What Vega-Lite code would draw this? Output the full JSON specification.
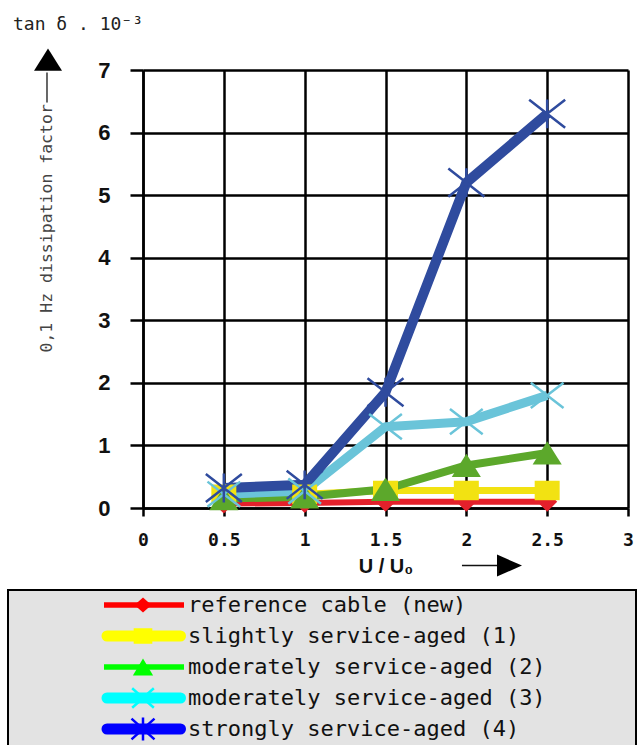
{
  "$schema": "https://vega.github.io/schema/vega-lite/v6.json",
  "padding": {"left": 7, "top": 16, "right": 0, "bottom": 0},
  "background": "white",
  "spacing": 12,
  "config": {
    "view": {"stroke": null},
    "font": "Liberation Sans"
  },
  "resolve": {"scale": {"color": "independent", "stroke": "independent", "fill": "independent", "shape": "independent", "size": "independent", "strokeWidth": "independent"}},
  "datasets": {
    "meas": [
      {"series": "reference cable (new)", "u": 0.5, "tan": 0.07},
      {"series": "reference cable (new)", "u": 1, "tan": 0.08},
      {"series": "reference cable (new)", "u": 1.5, "tan": 0.1},
      {"series": "reference cable (new)", "u": 2, "tan": 0.1},
      {"series": "reference cable (new)", "u": 2.5, "tan": 0.1},
      {"series": "slightly service-aged (1)", "u": 0.5, "tan": 0.22},
      {"series": "slightly service-aged (1)", "u": 1, "tan": 0.22},
      {"series": "slightly service-aged (1)", "u": 1.5, "tan": 0.28},
      {"series": "slightly service-aged (1)", "u": 2, "tan": 0.28},
      {"series": "slightly service-aged (1)", "u": 2.5, "tan": 0.28},
      {"series": "moderately service-aged (2)", "u": 0.5, "tan": 0.15},
      {"series": "moderately service-aged (2)", "u": 1, "tan": 0.18},
      {"series": "moderately service-aged (2)", "u": 1.5, "tan": 0.3},
      {"series": "moderately service-aged (2)", "u": 2, "tan": 0.68},
      {"series": "moderately service-aged (2)", "u": 2.5, "tan": 0.88},
      {"series": "moderately service-aged (3)", "u": 0.5, "tan": 0.22},
      {"series": "moderately service-aged (3)", "u": 1, "tan": 0.27},
      {"series": "moderately service-aged (3)", "u": 1.5, "tan": 1.3},
      {"series": "moderately service-aged (3)", "u": 2, "tan": 1.38},
      {"series": "moderately service-aged (3)", "u": 2.5, "tan": 1.8},
      {"series": "strongly service-aged (4)", "u": 0.5, "tan": 0.32},
      {"series": "strongly service-aged (4)", "u": 1, "tan": 0.37},
      {"series": "strongly service-aged (4)", "u": 1.5, "tan": 1.85},
      {"series": "strongly service-aged (4)", "u": 2, "tan": 5.2},
      {"series": "strongly service-aged (4)", "u": 2.5, "tan": 6.3}
    ],
    "leg": [
      {"label": "reference cable (new)"},
      {"label": "slightly service-aged (1)"},
      {"label": "moderately service-aged (2)"},
      {"label": "moderately service-aged (3)"},
      {"label": "strongly service-aged (4)"}
    ]
  },
  "vconcat": [
    {
      "width": 485,
      "height": 438,
      "title": {"text": "tan δ . 10⁻³", "anchor": "start", "frame": "group", "fontSize": 18, "fontWeight": "normal", "color": "#222", "font": "DejaVu Sans Mono", "dx": -130, "offset": 14},
      "layer": [
        {
          "data": {"name": "meas"},
          "mark": {"type": "line", "strokeCap": "butt", "strokeJoin": "round"},
          "encoding": {
            "x": {"field": "u", "type": "quantitative", "scale": {"domain": [0, 3], "nice": false},
              "axis": {"values": [0, 0.5, 1, 1.5, 2, 2.5, 3], "format": "~g", "grid": true, "gridColor": "black", "gridWidth": 2.5, "gridOpacity": 1,
                "domainColor": "black", "domainWidth": 2.5, "tickColor": "black", "tickWidth": 2.5, "tickSize": 8,
                "labelFont": "DejaVu Sans Mono", "labelFontSize": 18, "labelFontWeight": "bold", "labelColor": "#111", "labelPadding": 15, "labelFlush": false, "labelOverlap": false,
                "title": "U / U₀", "titleFont": "Liberation Sans", "titleFontSize": 20, "titleFontWeight": "bold", "titleColor": "#111", "titlePadding": 7}},
            "y": {"field": "tan", "type": "quantitative", "scale": {"domain": [0, 7], "nice": false},
              "axis": {"values": [0, 1, 2, 3, 4, 5, 6, 7], "format": "d", "grid": true, "gridColor": "black", "gridWidth": 2.5, "gridOpacity": 1,
                "domainColor": "black", "domainWidth": 2.5, "tickColor": "black", "tickWidth": 2.5, "tickSize": 13,
                "labelFont": "Liberation Sans", "labelFontSize": 22, "labelFontWeight": "bold", "labelColor": "#111", "labelPadding": 20,
                "title": "0,1 Hz dissipation factor", "titleFont": "DejaVu Sans Mono", "titleFontSize": 16.5, "titleFontWeight": "normal", "titleColor": "#444",
                "titleAngle": 270, "titleX": -97, "titleY": 282, "titleAlign": "left", "titleBaseline": "middle"}},
            "color": {"field": "series", "type": "nominal", "scale": {"domain": ["reference cable (new)", "slightly service-aged (1)", "moderately service-aged (2)", "moderately service-aged (3)", "strongly service-aged (4)"], "range": ["#e4202b", "#f2e212", "#5ca82b", "#6ac4d9", "#2f4b9e"]}, "legend": null},
            "strokeWidth": {"field": "series", "type": "ordinal", "scale": {"domain": ["reference cable (new)", "slightly service-aged (1)", "moderately service-aged (2)", "moderately service-aged (3)", "strongly service-aged (4)"], "range": [6, 10, 5, 7, 8]}, "legend": null}
          }
        },
        {
          "data": {"name": "meas"},
          "transform": [{"filter": "datum.series == 'reference cable (new)' || datum.series == 'slightly service-aged (1)' || datum.series == 'moderately service-aged (2)'"}],
          "mark": {"type": "point", "filled": true, "opacity": 1},
          "encoding": {
            "x": {"field": "u", "type": "quantitative"},
            "y": {"field": "tan", "type": "quantitative"},
            "color": {"field": "series", "type": "nominal", "legend": null},
            "shape": {"field": "series", "type": "nominal", "scale": {"domain": ["reference cable (new)", "slightly service-aged (1)", "moderately service-aged (2)", "moderately service-aged (3)", "strongly service-aged (4)"], "range": ["M0,-1L1,0L0,1L-1,0Z", "M-1,-0.78H1V0.78H-1Z", "M0,-0.8L1,0.8L-1,0.8Z", "M-1,-0.77L1,0.77M-1,0.77L1,-0.77", "M-1,-0.78L1,0.78M-1,0.78L1,-0.78M0,-0.8L0,0.8"]}, "legend": null},
            "size": {"field": "series", "type": "ordinal", "scale": {"domain": ["reference cable (new)", "slightly service-aged (1)", "moderately service-aged (2)", "moderately service-aged (3)", "strongly service-aged (4)"], "range": [400, 1296, 784, 1225, 1156]}, "legend": null}
          }
        },
        {
          "data": {"name": "meas"},
          "transform": [{"filter": "datum.series == 'moderately service-aged (3)' || datum.series == 'strongly service-aged (4)'"}],
          "mark": {"type": "point", "filled": false, "opacity": 1, "strokeWidth": 2.5},
          "encoding": {
            "x": {"field": "u", "type": "quantitative"},
            "y": {"field": "tan", "type": "quantitative"},
            "color": {"field": "series", "type": "nominal", "legend": null},
            "shape": {"field": "series", "type": "nominal", "legend": null},
            "size": {"field": "series", "type": "ordinal", "legend": null}
          }
        },
        {
          "data": {"values": [{}]},
          "mark": {"type": "rule", "color": "#666", "strokeWidth": 2},
          "encoding": {
            "x": {"datum": -0.594, "type": "quantitative"},
            "y": {"datum": 6.48, "type": "quantitative"},
            "y2": {"datum": 6.96}
          }
        },
        {
          "data": {"values": [{}]},
          "mark": {"type": "point", "filled": true, "color": "black", "opacity": 1, "shape": "M0,-0.8L1,0.8L-1,0.8Z", "size": 784},
          "encoding": {
            "x": {"datum": -0.5875, "type": "quantitative"},
            "y": {"datum": 7.166, "type": "quantitative"}
          }
        },
        {
          "data": {"values": [{}]},
          "mark": {"type": "rule", "color": "#111", "strokeWidth": 1.5},
          "encoding": {
            "x": {"datum": 1.973, "type": "quantitative"},
            "x2": {"datum": 2.21},
            "y": {"datum": -0.92, "type": "quantitative"}
          }
        },
        {
          "data": {"values": [{}]},
          "mark": {"type": "point", "filled": true, "color": "black", "opacity": 1, "shape": "M1,0L-1,-0.88L-1,0.88Z", "size": 625},
          "encoding": {
            "x": {"datum": 2.267, "type": "quantitative"},
            "y": {"datum": -0.92, "type": "quantitative"}
          }
        }
      ]
    },
    {
      "width": 493,
      "height": 157,
      "data": {"name": "leg"},
      "layer": [
        {
          "data": {"values": [{}]},
          "mark": {"type": "rect", "fill": "#e3e3e3", "stroke": "black", "strokeWidth": 2},
          "encoding": {
            "x": {"datum": 0, "type": "quantitative", "scale": {"domain": [0, 628], "range": [-135, 493], "nice": false, "zero": false}, "axis": null},
            "x2": {"datum": 628}
          }
        },
        {
          "transform": [{"filter": "datum.label == 'reference cable (new)' || datum.label == 'moderately service-aged (2)'"}],
          "mark": {"type": "rule", "strokeCap": "butt", "strokeWidth": 5.5},
          "encoding": {
            "x": {"datum": 96, "type": "quantitative"},
            "x2": {"datum": 176},
            "y": {"field": "label", "type": "nominal", "scale": {"type": "point", "padding": 0, "domain": ["reference cable (new)", "slightly service-aged (1)", "moderately service-aged (2)", "moderately service-aged (3)", "strongly service-aged (4)"], "range": [15, 139]}, "axis": null},
            "stroke": {"field": "label", "type": "nominal", "scale": {"domain": ["reference cable (new)", "slightly service-aged (1)", "moderately service-aged (2)", "moderately service-aged (3)", "strongly service-aged (4)"], "range": ["#ff0000", "#ffff00", "#00ff00", "#00ffff", "#0000ff"]}, "legend": null}
          }
        },
        {
          "transform": [{"filter": "datum.label != 'reference cable (new)' && datum.label != 'moderately service-aged (2)'"}],
          "mark": {"type": "rule", "strokeCap": "round", "strokeWidth": 11},
          "encoding": {
            "x": {"datum": 99, "type": "quantitative"},
            "x2": {"datum": 172.5},
            "y": {"field": "label", "type": "nominal"},
            "stroke": {"field": "label", "type": "nominal", "legend": null}
          }
        },
        {
          "transform": [{"filter": "datum.label == 'reference cable (new)' || datum.label == 'slightly service-aged (1)' || datum.label == 'moderately service-aged (2)'"}],
          "mark": {"type": "point", "filled": true, "opacity": 1},
          "encoding": {
            "x": {"datum": 135, "type": "quantitative"},
            "y": {"field": "label", "type": "nominal"},
            "fill": {"field": "label", "type": "nominal", "scale": {"domain": ["reference cable (new)", "slightly service-aged (1)", "moderately service-aged (2)", "moderately service-aged (3)", "strongly service-aged (4)"], "range": ["#ff0000", "#ffff00", "#00ff00", "#00ffff", "#0000ff"]}, "legend": null},
            "shape": {"field": "label", "type": "nominal", "scale": {"domain": ["reference cable (new)", "slightly service-aged (1)", "moderately service-aged (2)", "moderately service-aged (3)", "strongly service-aged (4)"], "range": ["M0,-0.88L1,0L0,0.88L-1,0Z", "M-1,-0.83H1V0.83H-1Z", "M0,-0.83L1,0.83L-1,0.83Z", "M-1,-0.9L1,0.9M-1,0.9L1,-0.9", "M-1,-0.9L1,0.9M-1,0.9L1,-0.9M0,-1L0,1"]}, "legend": null},
            "size": {"field": "label", "type": "ordinal", "scale": {"domain": ["reference cable (new)", "slightly service-aged (1)", "moderately service-aged (2)", "moderately service-aged (3)", "strongly service-aged (4)"], "range": [289, 529, 324, 150, 400]}, "legend": null}
          }
        },
        {
          "transform": [{"filter": "datum.label == 'moderately service-aged (3)' || datum.label == 'strongly service-aged (4)'"}],
          "mark": {"type": "point", "filled": false, "opacity": 1, "strokeWidth": 2.5},
          "encoding": {
            "x": {"datum": 135, "type": "quantitative"},
            "y": {"field": "label", "type": "nominal"},
            "stroke": {"field": "label", "type": "nominal", "legend": null},
            "shape": {"field": "label", "type": "nominal", "legend": null},
            "size": {"field": "label", "type": "ordinal", "legend": null}
          }
        },
        {
          "mark": {"type": "text", "align": "left", "baseline": "middle", "font": "DejaVu Sans Mono", "fontSize": 22, "color": "#111"},
          "encoding": {
            "x": {"datum": 180, "type": "quantitative"},
            "y": {"field": "label", "type": "nominal"},
            "text": {"field": "label"}
          }
        }
      ]
    }
  ]
}
